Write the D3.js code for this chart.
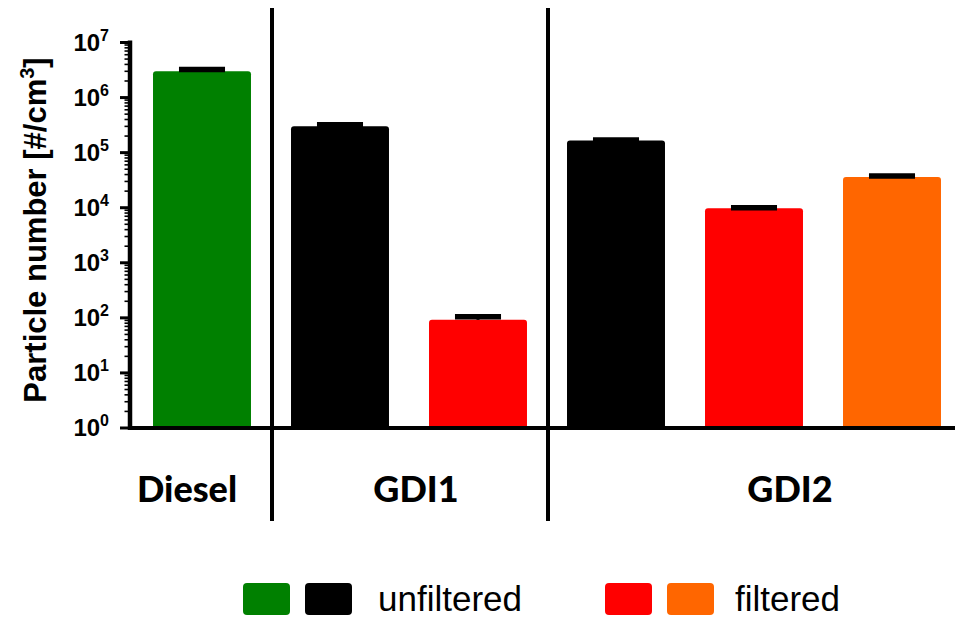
<!DOCTYPE html>
<html>
<head>
<meta charset="utf-8">
<script src="https://cdn.jsdelivr.net/npm/d3@7"></script>
<style>
  html, body { margin: 0; padding: 0; background: #fff; }
  svg { display: block; }
</style>
</head>
<body>
<svg id="chart" width="965" height="617"></svg>
<script>
// Particle number per sample (log scale), with upper error values
const barKeys   = ["Diesel", "GDI1 unfiltered", "GDI1 filtered", "GDI2 unfiltered", "GDI2 filtered A", "GDI2 filtered B"];
const barValues = [3.0e6, 3.0e5, 92, 1.67e5, 9.8e3, 3.6e4];
const barUpper  = [3.25e6, 3.2e5, 105, 1.7e5, 1.0e4, 3.75e4];
const barColors = ["#008000", "#000000", "#ff0000", "#000000", "#ff0000", "#ff6600"];

const groups      = ["Diesel", "GDI1", "GDI2"];
const groupFirst  = [0, 1, 3];       // index of first bar in each group
const groupLast   = [0, 2, 5];       // index of last bar in each group
const tickExps    = [0, 1, 2, 3, 4, 5, 6, 7];

const legendItems = [
  { colors: ["#008000", "#000000"], label: "unfiltered" },
  { colors: ["#ff0000", "#ff6600"], label: "filtered" }
];

const svg = d3.select("#chart");

const axisX = 130, baseY = 428, topY = 42.5, rightX = 955;

const y = d3.scaleLog().domain([1, 1e7]).range([baseY, topY]);
const x = d3.scaleBand().domain(barKeys).range([133, 961]).paddingInner(0.29).paddingOuter(0.145);
const bw = x.bandwidth();

// Bars with rounded top corners
function barPath(x0, y0, w, y1, r) {
  return `M${x0},${y1}V${y0 + r}Q${x0},${y0} ${x0 + r},${y0}H${x0 + w - r}Q${x0 + w},${y0} ${x0 + w},${y0 + r}V${y1}Z`;
}

svg.append("g").selectAll("path")
  .data(barKeys)
  .join("path")
  .attr("d", (k, i) => barPath(x(k), y(barValues[i]), bw, baseY, 3))
  .attr("fill", (k, i) => barColors[i]);

// Error bars (upper only)
const eb = svg.append("g");
barKeys.forEach((k, i) => {
  const cx = x(k) + bw / 2;
  eb.append("line")
    .attr("x1", cx).attr("x2", cx)
    .attr("y1", y(barValues[i])).attr("y2", y(barUpper[i]))
    .attr("stroke", "#000").attr("stroke-width", 3);
  eb.append("line")
    .attr("x1", cx - bw * 0.235).attr("x2", cx + bw * 0.235)
    .attr("y1", y(barUpper[i])).attr("y2", y(barUpper[i]))
    .attr("stroke", "#000").attr("stroke-width", 5.5);
});

// Y axis with major and minor log ticks
const ax = svg.append("g");
ax.append("line")
  .attr("x1", axisX).attr("x2", axisX)
  .attr("y1", topY - 2).attr("y2", baseY + 2)
  .attr("stroke", "#000").attr("stroke-width", 4.5);

tickExps.forEach(e => {
  const ty = y(Math.pow(10, e));
  ax.append("line")
    .attr("x1", axisX - 10).attr("x2", axisX)
    .attr("y1", ty).attr("y2", ty)
    .attr("stroke", "#000").attr("stroke-width", 3);
  if (e < 7) {
    for (let m = 2; m <= 9; m++) {
      const my = y(m * Math.pow(10, e));
      ax.append("line")
        .attr("x1", axisX - 5.5).attr("x2", axisX)
        .attr("y1", my).attr("y2", my)
        .attr("stroke", "#000").attr("stroke-width", 1.6);
    }
  }
  const t = ax.append("text")
    .attr("x", 109).attr("y", ty + 8)
    .attr("text-anchor", "end")
    .attr("font-family", "Liberation Sans, Arial, sans-serif")
    .attr("font-weight", "bold")
    .attr("font-size", 24);
  t.append("tspan").text("10");
  t.append("tspan").attr("dy", -10).attr("font-size", 16).text(e);
});

// X axis baseline
svg.append("line")
  .attr("x1", axisX - 2).attr("x2", rightX)
  .attr("y1", baseY).attr("y2", baseY)
  .attr("stroke", "#000").attr("stroke-width", 4);

// Group separators
const seps = [0, 1].map(g => (x(barKeys[groupLast[g]]) + bw + x(barKeys[groupFirst[g + 1]])) / 2 + 1);
svg.append("g").selectAll("line")
  .data(seps)
  .join("line")
  .attr("x1", d => d).attr("x2", d => d)
  .attr("y1", 8).attr("y2", 521)
  .attr("stroke", "#000").attr("stroke-width", 4);

// Group labels
const labelX = [187, 416, 790];
svg.append("g").selectAll("text")
  .data(groups)
  .join("text")
  .attr("x", (d, i) => labelX[i])
  .attr("y", 502)
  .attr("text-anchor", "middle")
  .attr("font-family", "Lato, sans-serif")
  .attr("font-weight", "900")
  .attr("font-size", 36)
  .text(d => d);

// Y axis title
const yt = svg.append("text")
  .attr("transform", "translate(46,230) rotate(-90)")
  .attr("text-anchor", "middle")
  .attr("font-family", "Liberation Sans, Arial, sans-serif")
  .attr("font-weight", "bold")
  .attr("font-size", 31);
yt.append("tspan").text("Particle number [#/cm");
yt.append("tspan").attr("dy", -12).attr("font-size", 20).text("3");
yt.append("tspan").attr("dy", 12).text("]");

// Legend
const legX = [243, 605];
const legTextX = [135, 130];
legendItems.forEach((item, i) => {
  const g = svg.append("g").attr("transform", `translate(${legX[i]},583)`);
  item.colors.forEach((c, j) => {
    g.append("rect")
      .attr("x", j * 62).attr("y", 0)
      .attr("width", 47).attr("height", 32)
      .attr("rx", 4)
      .attr("fill", c);
  });
  g.append("text")
    .attr("x", legTextX[i]).attr("y", 28)
    .attr("font-family", "Liberation Sans, Arial, sans-serif")
    .attr("font-size", 35)
    .text(item.label);
});
</script>
</body>
</html>
